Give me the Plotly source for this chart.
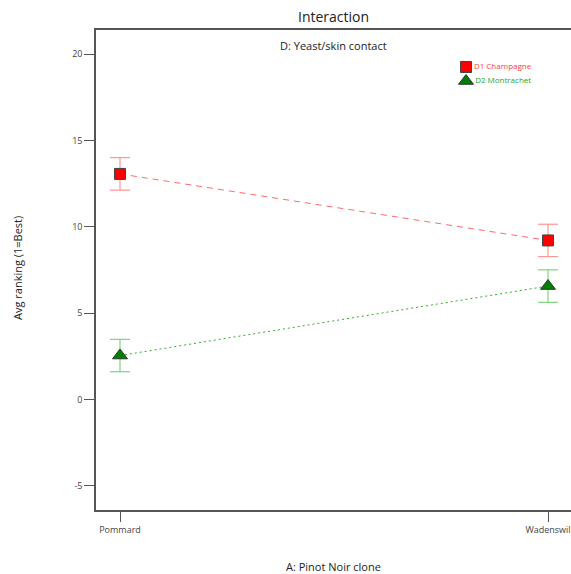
import plotly.graph_objects as go

# Pinot Noir clone (factor A) by yeast/skin contact (factor D)
clones = ["Pommard", "Wadenswil"]
d1_champagne = [13.06, 9.21]
d2_montrachet = [2.55, 6.57]
d1_err = [0.94, 0.94]
d2_err = [0.94, 0.94]
y_ticks = [-5, 0, 5, 10, 15, 20]
y_tick_text = ["-5", "0", "5", "10", "15", "20"]
series_names = ["D1 Champagne", "D2 Montrachet"]

RED_LINE = "#ff6a6a"
RED_BAR = "#ff8080"
GREEN_LINE = "#2fae2f"
GREEN_BAR = "#66cc66"
FONT = "Open Sans"

W, H = 571, 574
ML, MR, MT, MB = 96, 0, 30, 64
PW, PH = W - ML - MR, H - MT - MB


def py(pix):
    return (H - MB - pix) / PH


def px(pix):
    return (pix - ML) / PW


SQUARE = dict(symbol="square", size=11, color="#ff0000",
              line=dict(color="#444444", width=1))
TRIANGLE = dict(symbol="triangle-up", size=13, color="#008000",
                line=dict(color="#333333", width=1))

fig = go.Figure()

fig.add_trace(go.Scatter(
    x=[0, 1], y=d1_champagne, mode="lines+markers", showlegend=False,
    line=dict(color=RED_LINE, width=1, dash="6px,5px"),
    marker=SQUARE,
    error_y=dict(type="data", array=d1_err, color=RED_BAR, thickness=1, width=10),
))
fig.add_trace(go.Scatter(
    x=[0, 1], y=d2_montrachet, mode="lines+markers", showlegend=False,
    line=dict(color=GREEN_LINE, width=1, dash="2px,3px"),
    marker=TRIANGLE,
    error_y=dict(type="data", array=d2_err, color=GREEN_BAR, thickness=1, width=10),
))

# compact key in the upper right, drawn on its own small axes
fig.add_trace(go.Scatter(
    x=[0], y=[1], mode="markers+text", text=[series_names[0]],
    textposition="middle right", textfont=dict(size=8, color="#ff3b3b", family=FONT),
    marker=SQUARE, xaxis="x2", yaxis="y2", showlegend=False, cliponaxis=False,
    hoverinfo="skip",
))
fig.add_trace(go.Scatter(
    x=[0], y=[0], mode="markers+text", text=[series_names[1]],
    textposition="middle right", textfont=dict(size=8, color="#2aa52a", family=FONT),
    marker=TRIANGLE, xaxis="x2", yaxis="y2", showlegend=False, cliponaxis=False,
    hoverinfo="skip",
))

px_per_cat = 428.0
x_lo = -24 / px_per_cat
x_hi = 1 + (PW - 24 - px_per_cat) / px_per_cat

fig.update_layout(
    width=W, height=H,
    margin=dict(l=ML, r=MR, t=MT, b=MB, pad=0),
    paper_bgcolor="white", plot_bgcolor="white",
    font=dict(family=FONT, color="#333333"),
    showlegend=False,
    xaxis=dict(
        range=[x_lo, x_hi], tickmode="array", tickvals=[0, 1], ticktext=clones,
        showgrid=False, zeroline=False, showline=True, linecolor="#555555",
        linewidth=1.5, mirror=True, ticks="outside", ticklen=10, tickwidth=1,
        tickcolor="#555555", tickfont=dict(size=9, color="#444444"),
    ),
    yaxis=dict(
        range=[-6.39, 21.39], tickmode="array", tickvals=y_ticks, ticktext=y_tick_text,
        showgrid=False, zeroline=False, showline=True, linecolor="#555555",
        linewidth=1.5, mirror=False, ticks="outside", ticklen=10, tickwidth=1,
        tickcolor="#555555", tickfont=dict(size=9, color="#444444"),
    ),
    xaxis2=dict(domain=[px(456), px(476)], range=[-1, 1], visible=False,
                anchor="y2", fixedrange=True),
    yaxis2=dict(domain=[py(88), py(60)], range=[-0.5, 1.5], visible=False,
                anchor="x2", fixedrange=True),
)

fig.add_annotation(text="Interaction", xref="paper", yref="paper",
                   x=px(333), y=py(17), showarrow=False, xanchor="center",
                   yanchor="middle", font=dict(size=14, color="#222222", family=FONT))
fig.add_annotation(text="D: Yeast/skin contact", xref="paper", yref="paper",
                   x=px(333), y=py(45), showarrow=False, xanchor="center",
                   yanchor="middle", font=dict(size=11, color="#222222", family=FONT))
fig.add_annotation(text="A: Pinot Noir clone", xref="paper", yref="paper",
                   x=px(333), y=py(566), showarrow=False, xanchor="center",
                   yanchor="middle", font=dict(size=11, color="#222222", family=FONT))
fig.add_annotation(text="Avg ranking (1=Best)", xref="paper", yref="paper",
                   x=px(17), y=py(268), showarrow=False, xanchor="center",
                   yanchor="middle", textangle=-90,
                   font=dict(size=11, color="#222222", family=FONT))

fig.write_html("out.html")
